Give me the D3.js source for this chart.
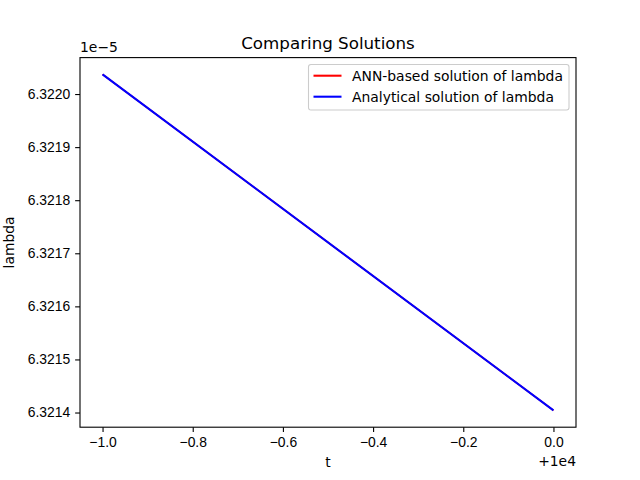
<!DOCTYPE html>
<html>
<head>
<meta charset="utf-8">
<script src="https://cdn.jsdelivr.net/npm/d3@7"></script>
<style>
  body { margin: 0; background: #fff; }
  svg { font-family: "DejaVu Sans", sans-serif; }
  .tick text { font-size: 13.9px; fill: #000; }
  .tick line { stroke: #000; stroke-width: 1.1; }
  .domain { display: none; }
</style>
</head>
<body>
<div id="chart"></div>
<script>
// Values.
var times = [9999, 10000];
var annLambda = [6.322037e-5, 6.321404e-5];
var analyticLambda = [6.322037e-5, 6.321404e-5];
var xTicks = [9999.0, 9999.2, 9999.4, 9999.6, 9999.8, 10000.0];
var yTicks = [6.3214e-5, 6.3215e-5, 6.3216e-5, 6.3217e-5, 6.3218e-5, 6.3219e-5, 6.3220e-5];
var seriesNames = ["ANN-based solution of lambda", "Analytical solution of lambda"];
var seriesColors = ["#ff0000", "#0000ff"];

var width = 640, height = 480,
    margin = {top: 57.6, right: 64, bottom: 52.8, left: 80};

var svg = d3.select("#chart").append("svg")
    .attr("width", width)
    .attr("height", height);

// Matplotlib-style 5% margins around the data.
function padded(vals) {
    var e = d3.extent(vals), d = e[1] - e[0];
    return [e[0] - 0.05 * d, e[1] + 0.05 * d];
}

var x = d3.scaleLinear()
    .domain(padded(times))
    .range([margin.left, width - margin.right]);
var y = d3.scaleLinear()
    .domain(padded(annLambda.concat(analyticLambda)))
    .range([height - margin.bottom, margin.top]);

var minus = function(s) { return s.replace("-", "\u2212"); };

var xAxis = d3.axisBottom(x)
    .tickValues(xTicks)
    .tickSize(4.86)
    .tickPadding(4.86)
    .tickFormat(function(d) { return minus((d - 10000).toFixed(1)); });
svg.append("g")
    .attr("transform", "translate(0," + (height - margin.bottom) + ")")
    .call(xAxis);

var yAxis = d3.axisLeft(y)
    .tickValues(yTicks)
    .tickSize(4.86)
    .tickPadding(4.86)
    .tickFormat(function(d) { return (d * 1e5).toFixed(4); });
svg.append("g")
    .attr("transform", "translate(" + margin.left + ",0)")
    .call(yAxis);

// Lines, red first so blue sits on top.
var line = d3.line()
    .x(function(d) { return x(d[0]); })
    .y(function(d) { return y(d[1]); });
[annLambda, analyticLambda].forEach(function(vals, i) {
    svg.append("path")
        .datum(d3.zip(times, vals))
        .attr("fill", "none")
        .attr("stroke", seriesColors[i])
        .attr("stroke-width", i == 0 ? 1.6 : 2.08)
        .attr("d", line);
});

// Axes frame.
svg.append("rect")
    .attr("x", margin.left)
    .attr("y", margin.top)
    .attr("width", width - margin.left - margin.right)
    .attr("height", height - margin.top - margin.bottom)
    .attr("fill", "none")
    .attr("stroke", "#000")
    .attr("stroke-width", 1.1);

// Offset / exponent labels.
svg.append("text")
    .attr("x", width - margin.right)
    .attr("y", 466)
    .attr("text-anchor", "end")
    .style("font-size", "13.9px")
    .text("+1e4");
svg.append("text")
    .attr("x", margin.left)
    .attr("y", 52)
    .style("font-size", "13.9px")
    .text("1e\u22125");

// Title and axis labels.
svg.append("text")
    .attr("x", (margin.left + width - margin.right) / 2)
    .attr("y", 49)
    .attr("text-anchor", "middle")
    .style("font-size", "16.7px")
    .text("Comparing Solutions");
svg.append("text")
    .attr("x", (margin.left + width - margin.right) / 2)
    .attr("y", 467)
    .attr("text-anchor", "middle")
    .style("font-size", "13.9px")
    .text("t");
svg.append("text")
    .attr("transform", "translate(14," + ((margin.top + height - margin.bottom) / 2) + ") rotate(-90)")
    .attr("text-anchor", "middle")
    .style("font-size", "13.9px")
    .text("lambda");

// Legend.
var legend = svg.append("g").attr("transform", "translate(308.5,64.5)");
legend.append("rect")
    .attr("width", 260.5)
    .attr("height", 45.5)
    .attr("rx", 2.5)
    .attr("fill", "#fff")
    .attr("fill-opacity", 0.8)
    .attr("stroke", "#cccccc")
    .attr("stroke-width", 1.1);
seriesNames.forEach(function(name, i) {
    var cy = 11.2 + i * 21;
    legend.append("line")
        .attr("x1", 5).attr("x2", 33)
        .attr("y1", cy).attr("y2", cy)
        .attr("stroke", seriesColors[i])
        .attr("stroke-width", 2.08);
    legend.append("text")
        .attr("x", 43.5)
        .attr("y", cy + 5)
        .style("font-size", "13.9px")
        .text(name);
});
</script>
</body>
</html>
